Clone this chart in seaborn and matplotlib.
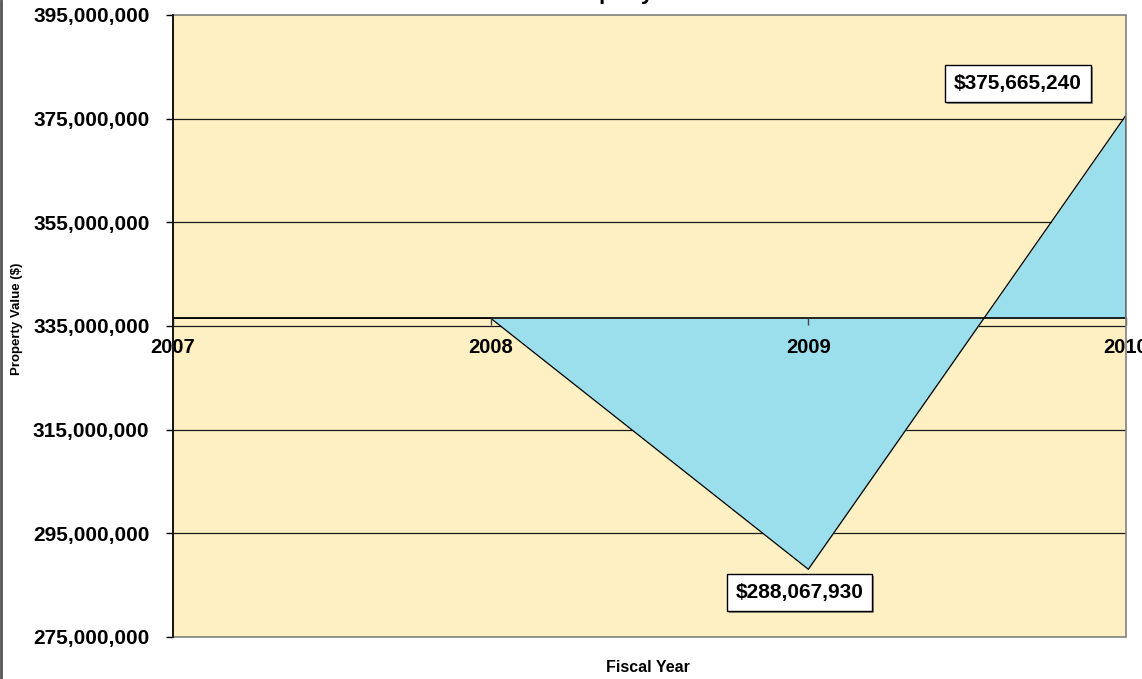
import matplotlib
matplotlib.use("Agg")
import matplotlib.pyplot as plt
import matplotlib.patheffects as pe
from matplotlib.patches import Rectangle
from matplotlib.lines import Line2D
import seaborn as sns
import pandas as pd

# ---- data ----
years = [2007, 2008, 2009, 2010]
values = [336_500_000, 336_500_000, 288_067_930, 375_665_240]
baseline = 336_500_000          # where the category axis crosses
y_ticks = [275_000_000, 295_000_000, 315_000_000, 335_000_000,
           355_000_000, 375_000_000, 395_000_000]
labelled_years = [2009, 2010]
title = "Property Value"
xlabel = "Fiscal Year"
ylabel = "Property Value ($)"

df = pd.DataFrame({"year": years, "value": values})

sns.set_style("white")
plt.rcParams["font.family"] = ["Liberation Sans", "DejaVu Sans"]
plt.rcParams["text.color"] = "black"
plt.rcParams["axes.labelcolor"] = "black"
plt.rcParams["xtick.color"] = "black"
plt.rcParams["ytick.color"] = "black"

fig = plt.figure(figsize=(11.42, 6.79), dpi=100)
ax = fig.add_axes([173 / 1142, 1 - 637 / 679, (1126 - 173) / 1142, (637 - 15) / 679])

bg = "#FEF0C3"
blue = "#9CDFEC"
ax.set_facecolor(bg)

# gridlines
for t in y_ticks[1:-1]:
    ax.axhline(t, color="#1a1a1a", lw=0.9, zorder=1)

ax.fill_between(df["year"], df["value"], baseline, color=blue, zorder=2, lw=0)
sns.lineplot(data=df, x="year", y="value", color="black", lw=0.9, ax=ax, zorder=3)
# right edge of area
ax.vlines(years[-1], baseline, values[-1], color="black", lw=1.2, zorder=3)

# axis crossing first (it resets tick properties)
for s in ["top", "right"]:
    ax.spines[s].set_visible(False)
ax.spines["bottom"].set_position(("data", baseline))
ax.spines["left"].set_color("black")
ax.spines["left"].set_linewidth(1.2)
ax.spines["bottom"].set_color("black")
ax.spines["bottom"].set_linewidth(1.2)
ax.spines["bottom"].set_zorder(4)
ax.spines["left"].set_zorder(6)

ax.set_xlim(years[0], years[-1])
ax.set_ylim(y_ticks[0], y_ticks[-1])
ax.set_yticks(y_ticks)
ax.set_yticklabels([f"{t:,}" for t in y_ticks])
ax.set_xticks(years)
ax.set_xticklabels([str(y) for y in years])
for lab in ax.get_yticklabels():
    lab.set_fontsize(15)
    lab.set_fontweight("bold")
    lab.set_color("black")
for lab in ax.get_xticklabels():
    lab.set_fontsize(14.5)
    lab.set_fontweight("bold")
    lab.set_color("black")

ax.tick_params(axis="y", direction="out", length=5, width=1, color="black", pad=12, left=True)
ax.tick_params(axis="x", direction="out", length=5, width=1, color="#444444", pad=9, bottom=True)
ax.grid(False)
ax.xaxis.set_zorder(4.5)

# plot area frame (top/right/bottom)
ax.add_patch(Rectangle((0, 0), 1, 1, transform=ax.transAxes, fill=False,
                       ec="#808080", lw=1.2, zorder=5, clip_on=False))

ax.set_xlabel(xlabel, fontsize=11.5, fontweight="bold", va="center", color="black")
ax.xaxis.set_label_coords(648 / 1142, 1 - 668 / 679, transform=fig.transFigure)
ax.set_ylabel(ylabel, fontsize=9.5, fontweight="bold", va="center", color="black")
ax.yaxis.set_label_coords(17 / 1142, 1 - 319 / 679, transform=fig.transFigure)

# data labels
label_pos = {2009: (2008.972, 283_600_000), 2010: (2009.66, 381_800_000)}
for yr in labelled_years:
    v = values[years.index(yr)]
    lx, ly = label_pos[yr]
    t = ax.text(lx, ly, f"${v:,}", ha="center", va="center", fontsize=15,
                fontweight="bold", zorder=7, color="black",
                bbox=dict(boxstyle="square,pad=0.42", fc="white", ec="black", lw=1))
    t.get_bbox_patch().set_path_effects([
        pe.SimplePatchShadow(offset=(1.5, -1.5), shadow_rgbFace="#777777", alpha=0.8),
        pe.Normal()])

# title, mostly cut off at top
fig.text(640 / 1142, 1 + 0.5 / 679, title, ha="center", va="baseline",
         fontsize=16, fontweight="bold", color="black")

# left figure border
fig.add_artist(Line2D([0.001, 0.001], [0, 1], transform=fig.transFigure,
                      color="#555555", lw=2))

fig.savefig("out.png", dpi=100, facecolor="white")
